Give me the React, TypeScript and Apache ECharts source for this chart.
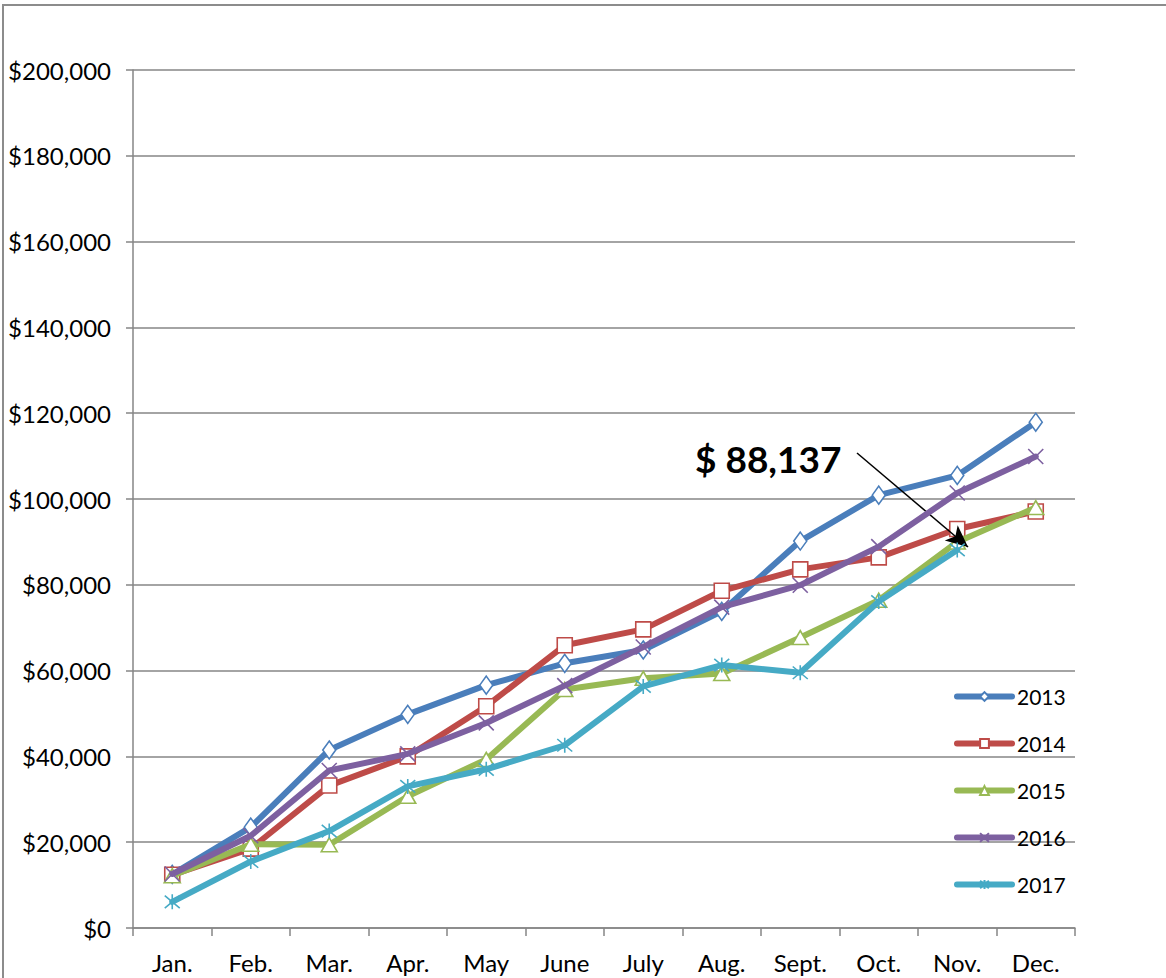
import React, { useEffect, useRef } from "react";
import * as echarts from "echarts";

const months = ["Jan.", "Feb.", "Mar.", "Apr.", "May", "June", "July", "Aug.", "Sept.", "Oct.", "Nov.", "Dec."];
const yearNames = ["2013", "2014", "2015", "2016", "2017"];
const sales2013 = [12500, 23500, 41500, 49800, 56600, 61700, 64800, 73800, 90200, 100900, 105500, 117900];
const sales2014 = [12400, 18500, 33200, 40000, 51700, 65900, 69600, 78600, 83600, 86400, 93000, 97100];
const sales2015 = [12200, 19500, 19400, 30700, 39300, 55600, 58200, 59300, 67700, 76400, 90000, 98000];
const sales2016 = [12600, 21500, 36700, 40600, 47800, 56500, 65500, 74800, 79900, 88900, 101400, 109900];
const sales2017 = [6100, 15500, 22600, 33000, 37000, 42600, 56300, 61300, 59500, 76100, 88137, null];
const yTicks = { min: 0, max: 200000, interval: 20000 };
const annotationText = "$ 88,137";

const colors = ["#4A7EBB", "#BE4B48", "#98B954", "#7D60A0", "#46AAC5"];
const symbols = [
  "diamond",
  "rect",
  "triangle",
  "path://M0,0L10,10M10,0L0,10",
  "path://M0,0L10,10M10,0L0,10M5,-1L5,11",
];
const symbolSizes: any[] = [[13, 18], 15, [16, 14], 15, 15];

export default function App() {
  const ref = useRef<HTMLDivElement>(null);
  useEffect(() => {
    if (!ref.current) return;
    const chart = echarts.init(ref.current, null, { renderer: "svg" });
    const allData = [sales2013, sales2014, sales2015, sales2016, sales2017];
    const series: any[] = allData.map((d, i) => ({
      name: yearNames[i],
      type: "line",
      data: d,
      symbol: symbols[i],
      symbolSize: symbolSizes[i],
      showAllSymbol: true,
      lineStyle: { color: colors[i], width: 6, cap: "round", join: "round" },
      itemStyle: { color: "#ffffff", borderColor: colors[i], borderWidth: 1.6 },
      z: 2 + i,
    }));
    series[4].markLine = {
      silent: true,
      animation: false,
      symbol: ["none", "arrow"],
      symbolSize: [15, 22],
      label: { show: false },
      lineStyle: { color: "#000", width: 1.5, type: "solid" },
      data: [[{ x: 857, y: 453 }, { x: 968, y: 547 }]],
    };
    chart.setOption({
      animation: false,
      backgroundColor: "#ffffff",
      grid: { left: 133, right: 91, top: 70, bottom: 50, containLabel: false },
      xAxis: {
        type: "category",
        data: months,
        boundaryGap: true,
        axisLine: { lineStyle: { color: "#868686", width: 1.5 } },
        axisTick: { show: true, interval: 0, length: 8, lineStyle: { color: "#868686", width: 1.5 } },
        axisLabel: { color: "#000", fontFamily: "Lato", fontSize: 24, margin: 22, interval: 0 },
        splitLine: { show: false },
      },
      yAxis: {
        type: "value",
        min: yTicks.min,
        max: yTicks.max,
        interval: yTicks.interval,
        axisLine: { show: true, lineStyle: { color: "#868686", width: 1.5 } },
        axisTick: { show: true, length: 7, lineStyle: { color: "#868686", width: 1.5 } },
        axisLabel: {
          color: "#000",
          fontFamily: "Lato",
          fontSize: 24,
          margin: 22,
          formatter: (v: number) => "$" + v.toLocaleString("en-US"),
        },
        splitLine: { show: true, lineStyle: { color: "#868686", width: 1.5 } },
      },
      legend: {
        orient: "vertical",
        left: 954,
        top: 686,
        padding: 0,
        itemWidth: 55,
        itemHeight: 11,
        itemGap: 26,
        data: yearNames,
        lineStyle: { width: 6 },
        textStyle: { color: "#000", fontFamily: "Lato", fontSize: 21 },
      },
      graphic: [
        {
          type: "rect",
          shape: { x: 3, y: 5, width: 1400, height: 1200 },
          style: { fill: "none", stroke: "#8c8c8c", lineWidth: 2 },
          silent: true,
        },
        {
          type: "text",
          x: 695,
          y: 458,
          style: {
            text: annotationText,
            fontFamily: "Lato",
            fontWeight: "bold",
            fontSize: 37,
            fill: "#000",
            verticalAlign: "middle",
          },
        },
      ],
      series,
    });
    return () => chart.dispose();
  }, []);
  return <div ref={ref} style={{ position: "absolute", left: 0, top: 0, width: 1166, height: 978 }} />;
}
